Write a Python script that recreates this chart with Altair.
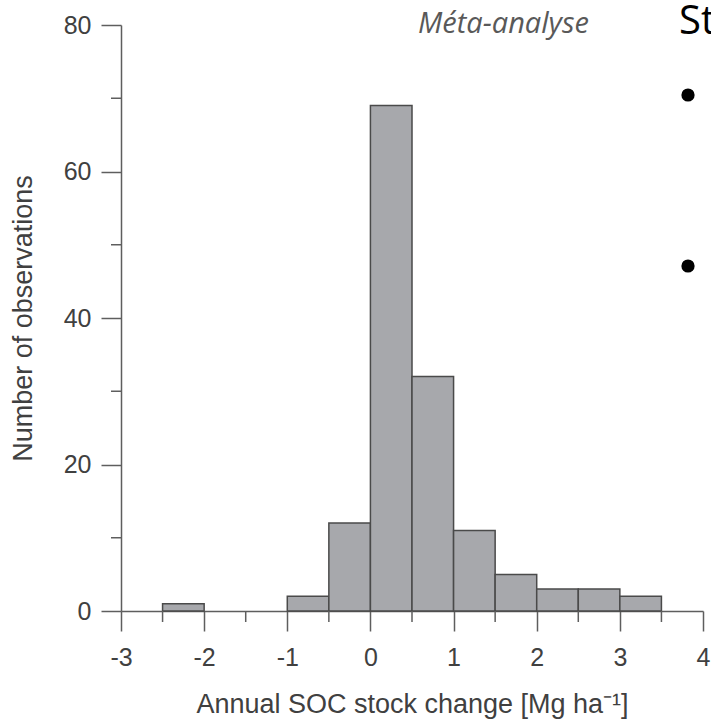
import altair as alt
import pandas as pd

# ---- data ----
bin_start = [-2.5, -1.0, -0.5, 0.0, 0.5, 1.0, 1.5, 2.0, 2.5, 3.0]
bin_end = [-2.0, -0.5, 0.0, 0.5, 1.0, 1.5, 2.0, 2.5, 3.0, 3.5]
counts = [1, 2, 12, 69, 32, 11, 5, 3, 3, 2]

x_major = [-3, -2, -1, 0, 1, 2, 3, 4]
x_minor = [-2.5, -1.5, -0.5, 0.5, 1.5, 2.5, 3.5]
y_major = [0, 20, 40, 60, 80]
y_minor = [10, 30, 50, 70]

x_title = "Annual SOC stock change [Mg ha\u207b\u00b9]"
y_title = "Number of observations"
note_text = "Méta-analyse"
side_text = "St"

W, H = 582, 586
FONT = "Liberation Sans"
AXIS_COL = "#5e5e5e"
TEXT_COL = "#404040"

bars_df = pd.DataFrame({"start": bin_start, "end": bin_end, "count": counts})
xminor_df = pd.DataFrame({"v": x_minor})
yminor_df = pd.DataFrame({"v": y_minor})

xscale = alt.Scale(domain=[-3, 4], nice=False, zero=False)
yscale = alt.Scale(domain=[0, 80], nice=False)

label_expr = "datum.value < 0 ? '-' + abs(datum.value) : '' + datum.value"

x_axis = alt.Axis(
    values=x_major, tickSize=20, tickWidth=1.5, tickColor=AXIS_COL,
    domainColor=AXIS_COL, domainWidth=1.5, grid=False,
    labelFont=FONT, labelFontSize=25, labelColor=TEXT_COL, labelPadding=14,
    labelFlush=False, labelExpr=label_expr,
    title=x_title, titleFont=FONT, titleFontSize=27, titleFontWeight="normal",
    titleColor=TEXT_COL, titleX=W / 2, titleY=101, titleBaseline="alphabetic",
    titleAlign="center",
)
y_axis = alt.Axis(
    values=y_major, tickSize=20, tickWidth=1.5, tickColor=AXIS_COL,
    domainColor=AXIS_COL, domainWidth=1.5, grid=False,
    labelFont=FONT, labelFontSize=25, labelColor=TEXT_COL, labelPadding=10,
    labelFlush=False, labelExpr=label_expr,
    title=y_title, titleFont=FONT, titleFontSize=27, titleFontWeight="normal",
    titleColor=TEXT_COL, titleAngle=270, titleX=-98, titleY=H / 2,
    titleBaseline="middle", titleAlign="center",
)

bars = alt.Chart(bars_df).mark_bar(
    fill="#a7a8ac", stroke="#4a4a4a", strokeWidth=1.5
).encode(
    x=alt.X("start:Q", scale=xscale, axis=x_axis),
    x2="end:Q",
    y=alt.Y("count:Q", scale=yscale, axis=y_axis),
    y2=alt.datum(0),
)

x_minor_ticks = alt.Chart(xminor_df).mark_rule(
    color=AXIS_COL, strokeWidth=1.5
).encode(
    x=alt.X("v:Q", scale=xscale),
    y=alt.value(H),
    y2=alt.value(H + 11),
)

y_minor_ticks = alt.Chart(yminor_df).mark_rule(
    color=AXIS_COL, strokeWidth=1.5
).encode(
    y=alt.Y("v:Q", scale=yscale),
    x=alt.value(-10),
    x2=alt.value(0),
)

note = alt.Chart(pd.DataFrame({"t": [note_text]})).mark_text(
    font="Open Sans", fontStyle="italic", fontSize=29, color="#595959",
    align="left", baseline="alphabetic",
).encode(text="t:N", x=alt.value(297), y=alt.value(8))

side = alt.Chart(pd.DataFrame({"t": [side_text]})).mark_text(
    font="Open Sans", fontSize=40, color="#000000",
    align="left", baseline="alphabetic",
).encode(text="t:N", x=alt.value(558), y=alt.value(9))

bullet_1 = alt.Chart(pd.DataFrame({"k": [0]})).mark_circle(
    color="#000000", opacity=1, size=175
).encode(x=alt.value(567), y=alt.value(70))

bullet_2 = alt.Chart(pd.DataFrame({"k": [1]})).mark_circle(
    color="#000000", opacity=1, size=175
).encode(x=alt.value(567), y=alt.value(241))

chart = alt.layer(
    bars, x_minor_ticks, y_minor_ticks, note, side, bullet_1, bullet_2
).properties(
    width=W, height=H,
    autosize=alt.AutoSizeParams(type="none"),
    padding={"left": 121, "top": 25, "right": 8, "bottom": 109},
    background="white",
).configure_view(stroke=None)

chart.save("out.html", embed_options={"renderer": "svg", "actions": False})
